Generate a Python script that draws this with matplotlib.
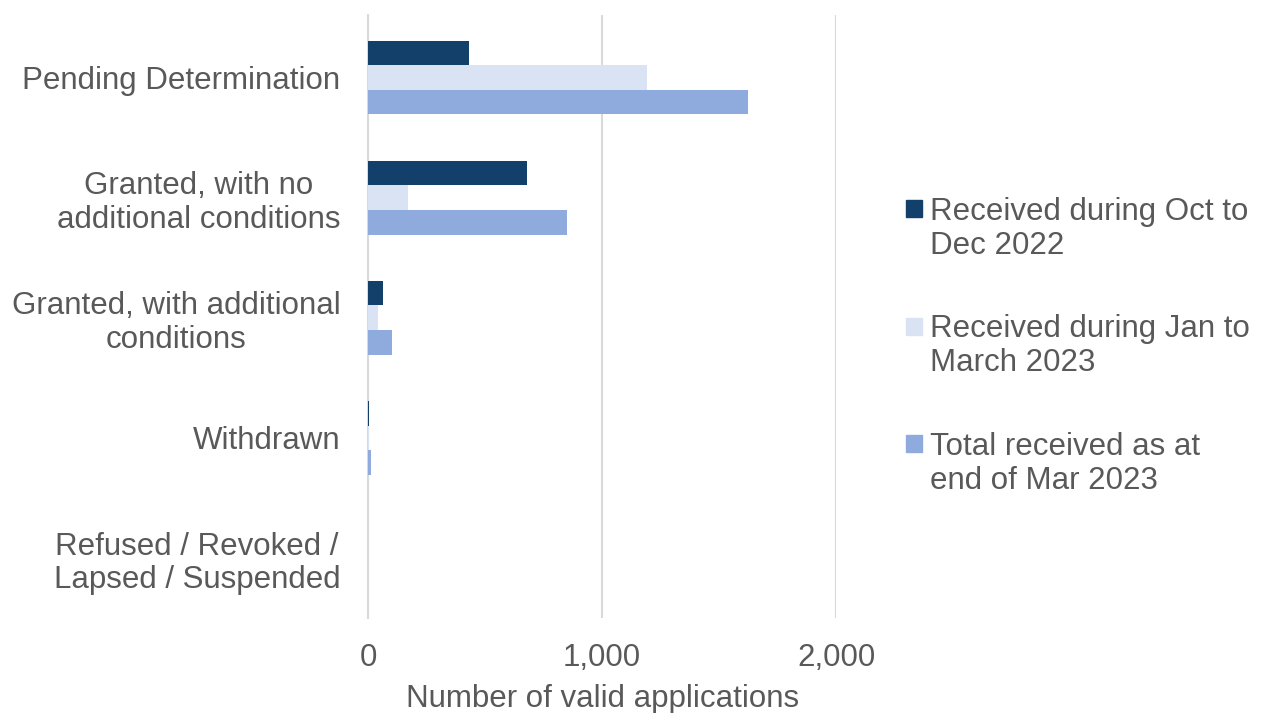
import numpy as np
import matplotlib.pyplot as plt
import matplotlib.transforms as mtrans
from matplotlib.patches import Rectangle

plt.rcParams['font.family'] = ['Liberation Sans', 'DejaVu Sans']

categories = ['Pending Determination', 'Granted, with no\nadditional conditions',
              'Granted, with additional\nconditions', 'Withdrawn',
              'Refused / Revoked /\nLapsed / Suspended']
oct_dec = [432, 679, 64, 3, 0]
jan_mar = [1192, 171, 43, 3, 0]
total = [1624, 850, 103, 11, 0]
series = ['Received during Oct to\nDec 2022', 'Received during Jan to\nMarch 2023',
          'Total received as at\nend of Mar 2023']
colors = ['#133F6B', '#DAE3F3', '#8FAADC']
txt = '#595959'
fs = 22.5
W, H = 1265, 713

fig = plt.figure(figsize=(12.65, 7.13), dpi=100)
ax = fig.add_axes([0.291, 0.133, 0.370, 0.846])

y = np.arange(len(categories))
h = 0.205
for i, vals in enumerate([oct_dec, jan_mar, total]):
    ax.barh(y + (i - 1) * h, vals, height=h, color=colors[i], zorder=3)

ax.set_ylim(4.5, -0.52)
ax.set_xlim(0, 2000)
ax.set_xticks([0, 1000, 2000])
ax.set_xticklabels(['0', '1,000', '2,000'])
ax.set_yticks(y)
ax.set_yticklabels(categories, fontsize=fs, color=txt, linespacing=1.15)
# nudge the two-line labels up a little so they sit centred on their bars
up = mtrans.ScaledTranslation(0, 3.5 / 100, fig.dpi_scale_trans)
for lab in ax.get_yticklabels():
    lab.set_multialignment('center')
    if '\n' in lab.get_text():
        lab.set_transform(lab.get_transform() + up)
ax.grid(axis='x', color='#D9D9D9', linewidth=1.5, zorder=0)
for s in ['top', 'right', 'bottom']:
    ax.spines[s].set_visible(False)
ax.spines['left'].set_color('#D9D9D9')
ax.spines['left'].set_linewidth(1.5)
ax.spines['left'].set_zorder(1)
ax.tick_params(axis='y', length=0, pad=20)
ax.tick_params(axis='x', length=0, pad=18, labelsize=fs, labelcolor=txt)
ax.set_xlabel('Number of valid applications', fontsize=fs, color=txt, labelpad=8)

# legend drawn by hand so the square sits on the first line of each label
for i, (lab, c) in enumerate(zip(series, colors)):
    top = 200 + 117.5 * i
    fig.add_artist(Rectangle((906 / W, 1 - (top + 17) / H), 16 / W, 17 / H,
                             transform=fig.transFigure, color=c))
    fig.text(930 / W, 1 - (top - 3) / H, lab, fontsize=fs, color=txt,
             va='top', ha='left', linespacing=1.17)

fig.savefig('out.png', dpi=100)
